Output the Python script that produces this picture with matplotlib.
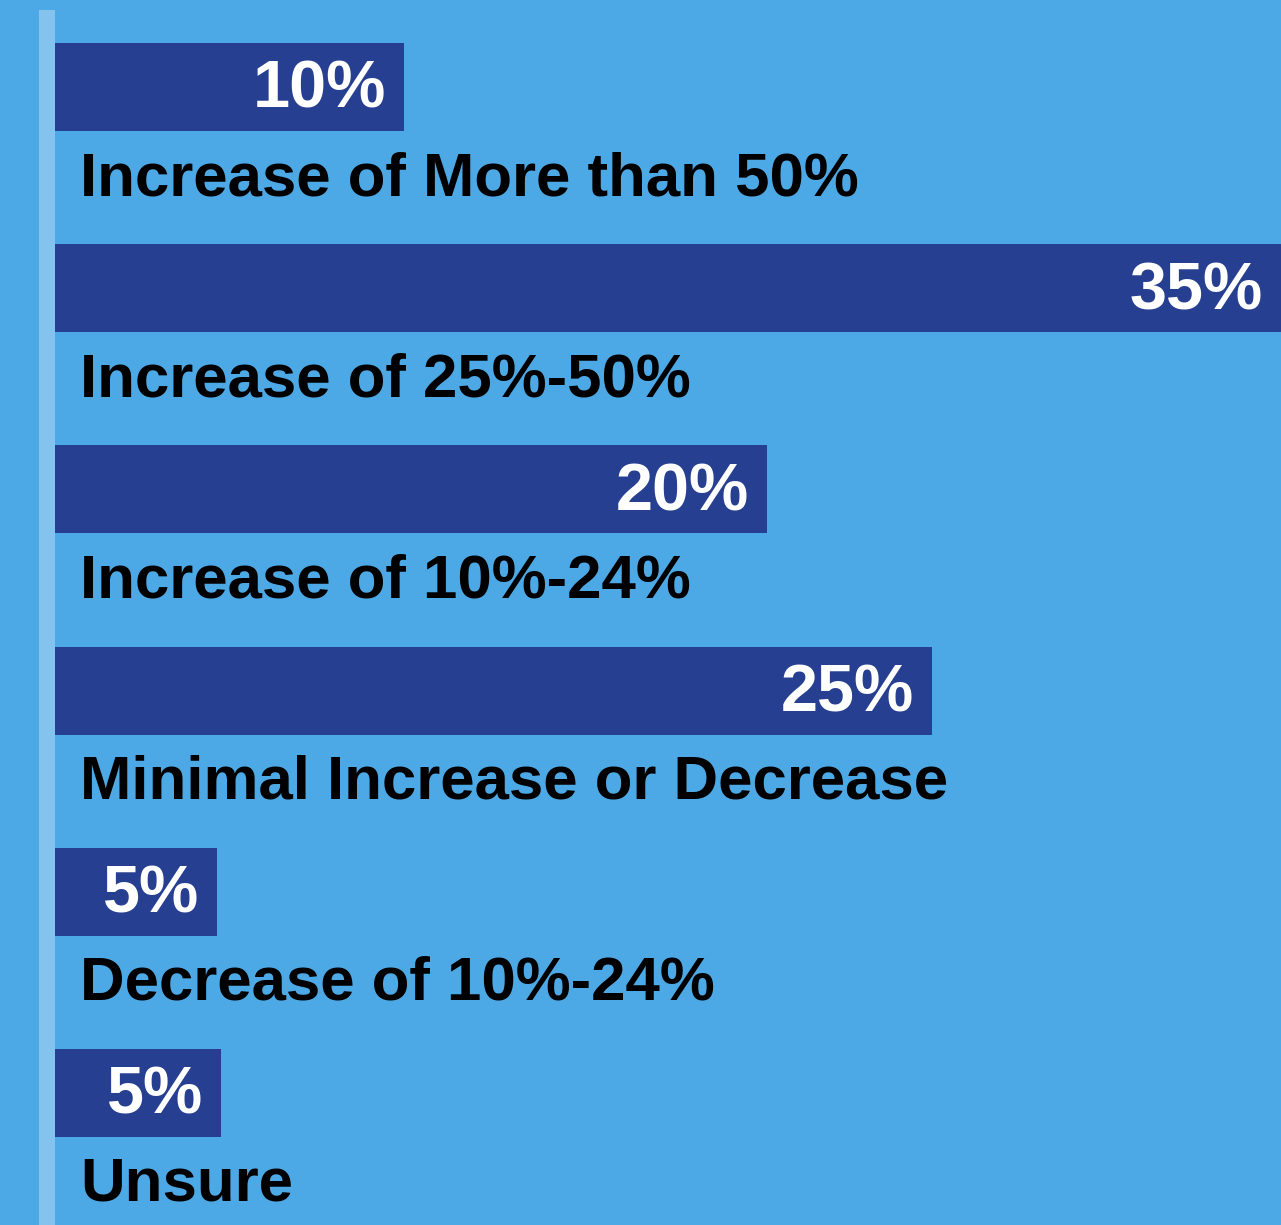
import numpy as np
import matplotlib.pyplot as plt

plt.rcParams['font.family'] = ['Liberation Sans', 'DejaVu Sans']

categories = ['Increase of More than 50%', 'Increase of 25%-50%', 'Increase of 10%-24%',
              'Minimal Increase or Decrease', 'Decrease of 10%-24%', 'Unsure']
values = [9.95, 34.95, 20.3, 25.0, 4.62, 4.73]
value_labels = ['10%', '35%', '20%', '25%', '5%', '5%']

BG = '#4DA9E6'
BAR = '#273F91'
LINE = '#85C3EF'

W, H = 1281, 1225
PX = 35.08        # pixels per percent
X0 = 55           # pixel of x=0
Y0 = 87           # pixel centre of first bar
DY = 201.2        # pixel spacing between bars

fig = plt.figure(figsize=(W / 100, H / 100), dpi=100, facecolor=BG)
ax = fig.add_axes([0, 0, 1, 1])
ax.set_facecolor(BG)

ax.set_xlim(-X0 / PX, (W - X0) / PX)
ax.set_ylim((H - Y0) / DY, -Y0 / DY)

y = np.arange(len(categories))
ax.barh(y, values, height=88 / DY, color=BAR, left=0)

# light vertical axis strip
ax.axvspan(-16 / PX, 0, ymin=0, ymax=1 - 10 / H, color=LINE, lw=0)

for i, (cat, v, lab) in enumerate(zip(categories, values, value_labels)):
    ax.text(v - 18 / PX, i + 21 / DY, lab, ha='right', va='baseline',
            color='white', fontsize=48, fontweight='bold')
    ax.text(25 / PX, i + 108 / DY, cat, ha='left', va='baseline',
            color='black', fontsize=44.5, fontweight='bold')

ax.axis('off')
fig.savefig('out.png', dpi=100, facecolor=BG)
